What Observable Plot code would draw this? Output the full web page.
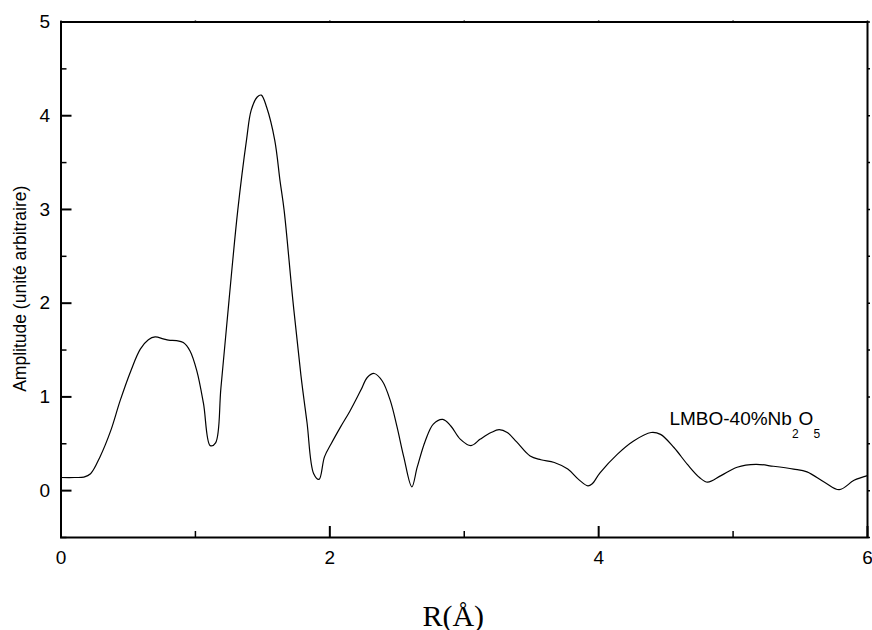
<!DOCTYPE html>
<html><head><meta charset="utf-8">
<script src="https://cdn.jsdelivr.net/npm/d3@7"></script>
<script src="https://cdn.jsdelivr.net/npm/@observablehq/plot@0.6"></script>
<style>body{margin:0;background:#fff}</style>
</head><body><div id="chart"></div>
<script>
const rValues = [0.00,0.10,0.17,0.22,0.29,0.37,0.44,0.52,0.59,0.65,0.70,0.76,0.80,0.86,0.91,0.96,1.01,1.06,1.11,1.15,1.19,1.25,1.315,1.38,1.415,1.46,1.49,1.53,1.59,1.63,1.66,1.725,1.785,1.83,1.88,1.92,1.96,2.01,2.08,2.15,2.23,2.28,2.33,2.39,2.45,2.50,2.55,2.61,2.65,2.71,2.77,2.84,2.90,2.97,3.05,3.12,3.20,3.26,3.32,3.39,3.49,3.57,3.67,3.77,3.85,3.92,3.95,4.01,4.14,4.26,4.39,4.46,4.56,4.66,4.75,4.81,4.91,5.03,5.17,5.30,5.45,5.55,5.68,5.79,5.90,6.00];
const amplitude = [0.14,0.14,0.145,0.18,0.36,0.64,0.96,1.28,1.51,1.61,1.64,1.62,1.605,1.60,1.58,1.49,1.28,0.93,0.48,0.51,1.10,2.03,2.99,3.74,4.06,4.20,4.22,4.09,3.74,3.30,2.99,2.03,1.23,0.73,0.18,0.12,0.36,0.50,0.68,0.85,1.07,1.21,1.25,1.17,0.96,0.68,0.36,0.04,0.25,0.53,0.71,0.76,0.69,0.55,0.48,0.55,0.62,0.65,0.62,0.52,0.37,0.33,0.30,0.23,0.12,0.05,0.07,0.19,0.39,0.53,0.62,0.60,0.46,0.28,0.14,0.09,0.16,0.25,0.28,0.26,0.23,0.20,0.09,0.01,0.11,0.16];
const xMajorTicks = [0,2,4,6];
const xMinorTicks = [1,3,5];
const xAllTicks = [0,1,2,3,4,5,6];
const yMajorTicks = [0,1,2,3,4,5];
const yMinorTicks = [-0.5,0.5,1.5,2.5,3.5,4.5];
const yAllTicks = [-0.5,0,0.5,1,1.5,2,2.5,3,3.5,4,4.5,5];
const sampleLabelParts = ["LMBO-40%Nb", "2", "O", "5"];
const sampleLabelAt = [4.53, 0.70];
const xLabel = "R(Å)";
const yLabel = "Amplitude (unité arbitraire)";

const data = rValues.map((r, i) => ({r, a: amplitude[i]}));
const sans = "'Liberation Sans', Arial, sans-serif";

const chart = Plot.plot({
  width: 872, height: 630,
  marginLeft: 60.5, marginRight: 5, marginTop: 21.5, marginBottom: 93,
  style: {fontFamily: sans, fontSize: "19px", background: "#fff", color: "#000", overflow: "visible"},
  x: {domain: [0, 6]},
  y: {domain: [-0.5, 5]},
  marks: [
    Plot.line(data, {x: "r", y: "a", curve: "catmull-rom", stroke: "#000", strokeWidth: 1.2}),
    Plot.frame({stroke: "#000", strokeWidth: 2}),
    Plot.axisX(xMajorTicks, {tickSize: 0, tickPadding: 13, tickFormat: d => String(d), label: null, fontSize: 19}),
    Plot.axisX(xMajorTicks, {text: null, tickSize: -11, strokeWidth: 2, label: null}),
    Plot.axisX(xMinorTicks, {text: null, tickSize: -6, strokeWidth: 1.5, label: null}),
    Plot.axisX(xAllTicks, {anchor: "top", text: null, tickSize: 2, strokeWidth: 1.5, label: null}),
    Plot.axisY(yMajorTicks, {tickSize: 0, tickPadding: 11, tickFormat: d => String(d), label: null, fontSize: 19}),
    Plot.axisY(yMajorTicks, {text: null, tickSize: -11, strokeWidth: 2, label: null}),
    Plot.axisY(yMinorTicks, {text: null, tickSize: -6, strokeWidth: 1.5, label: null}),
    Plot.axisY(yAllTicks, {anchor: "right", text: null, tickSize: 2, strokeWidth: 1.5, label: null}),
    Plot.text([yLabel], {text: d => d, frameAnchor: "left", textAnchor: "middle", rotate: -90, dx: -41, dy: 9, fontSize: 17.5, fontFamily: sans, fill: "#000"}),
    Plot.text([xLabel], {text: d => d, frameAnchor: "bottom", textAnchor: "middle", lineAnchor: "bottom", dx: -11, dy: 88, fontSize: 30, fontFamily: "'Liberation Serif', 'Times New Roman', serif", fill: "#000"})
  ]
});

const sx = chart.scale("x"), sy = chart.scale("y");
const t = d3.select(chart).append("text")
  .attr("x", sx.apply(sampleLabelAt[0]))
  .attr("y", sy.apply(sampleLabelAt[1]))
  .attr("text-anchor", "start")
  .attr("font-size", 19)
  .attr("font-family", sans)
  .attr("fill", "#000");
t.append("tspan").text(sampleLabelParts[0]);
t.append("tspan").attr("dy", 13).attr("font-size", 12).text(sampleLabelParts[1]);
t.append("tspan").attr("dy", -13).text(sampleLabelParts[2]);
t.append("tspan").attr("dy", 13).attr("font-size", 12).text(sampleLabelParts[3]);

document.getElementById("chart").appendChild(chart);
</script>
</body></html>
